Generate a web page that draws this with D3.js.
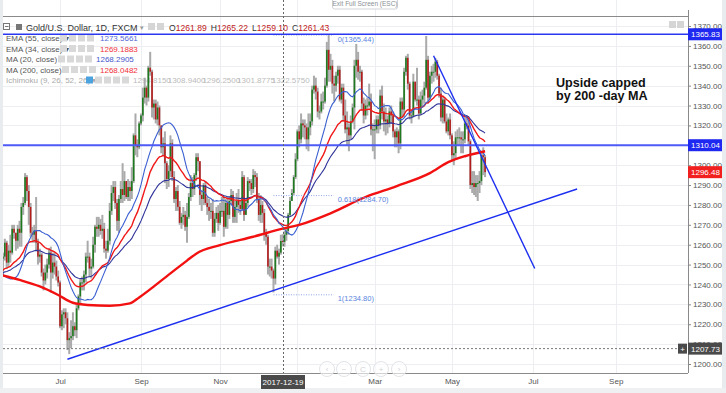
<!DOCTYPE html>
<html>
<head>
<meta charset="utf-8">
<script src="https://cdnjs.cloudflare.com/ajax/libs/d3/7.8.5/d3.min.js"></script>
<style>
  body { margin: 0; background: #fff; }
  svg { display: block; font-family: "Liberation Sans", Arial, sans-serif; }
</style>
</head>
<body>
<script>
// closes before the visible window (2017-03-06 .. 2017-05-18), only used to warm up the averages
const priorCloses = [
  1226, 1215, 1209, 1203, 1201, 1203, 1199, 1219, 1227, 1229, 1234, 1245, 1249, 1247, 1243, 1255, 1252, 1253, 1244, 1249,
  1252, 1257, 1248, 1252, 1254, 1254, 1274, 1285, 1287, 1288, 1291, 1290, 1282, 1283, 1284, 1275, 1266, 1263, 1265, 1268,
  1256, 1255, 1248, 1228, 1228, 1227, 1215, 1220, 1225, 1228, 1230, 1236, 1259, 1253
];

// daily candles 2017-05-19 .. 2018-05-25 (open = previous close)
const closes = [
  1254, 1261, 1251, 1257, 1256, 1268, 1266, 1262, 1268,
  1266, 1279, 1281, 1294, 1287, 1279, 1266, 1265, 1267, 1261, 1254, 1255, 1246, 1242, 1246, 1250, 1256, 1246, 1251, 1249, 1244, 1241,
  1219, 1225, 1226, 1223, 1212, 1213, 1214, 1219, 1217, 1228, 1234, 1241, 1241, 1245, 1254, 1254, 1248, 1249, 1260, 1269, 1268,
  1270, 1267, 1268, 1258, 1257, 1262, 1277, 1286, 1289, 1281, 1272, 1283, 1288, 1285, 1292, 1284, 1289, 1287, 1292, 1315, 1310, 1309, 1321,
  1325, 1334, 1339, 1334, 1349, 1347, 1329, 1331, 1323, 1329, 1320, 1309, 1311, 1301, 1293, 1297, 1311, 1294, 1283, 1287, 1279,
  1271, 1274, 1275, 1269, 1274, 1284, 1291, 1288, 1295, 1304, 1302, 1285, 1283, 1290, 1281, 1279, 1277, 1277, 1266, 1273, 1276, 1271,
  1277, 1277, 1269, 1281, 1275, 1282, 1285, 1274, 1279, 1282, 1280, 1278, 1294, 1275, 1281, 1292, 1291, 1288, 1295, 1294, 1283, 1275,
  1280, 1276, 1266, 1264, 1249, 1249, 1247, 1243, 1257, 1254, 1256, 1261.89, 1261.43, 1265, 1267, 1275, 1282, 1286, 1294, 1303,
  1317, 1313, 1321, 1320, 1319, 1313, 1319, 1322, 1338, 1340, 1337, 1327, 1327, 1332, 1332, 1340, 1358, 1348, 1350, 1341, 1340, 1345,
  1348, 1333, 1339, 1325, 1318, 1319, 1315, 1322, 1329, 1350, 1353, 1347, 1347, 1331, 1325, 1330, 1330, 1332, 1318, 1318,
  1318, 1323, 1320, 1335, 1327, 1322, 1323, 1321, 1327, 1325, 1317, 1314, 1317, 1311, 1332, 1328, 1347, 1354, 1341, 1325, 1325,
  1342, 1333, 1333, 1326, 1333, 1335, 1339, 1353, 1334, 1345, 1347, 1347, 1352, 1345, 1336, 1324, 1333, 1322, 1317, 1323, 1315,
  1305, 1306, 1314, 1314, 1314, 1313, 1313, 1321, 1320, 1312, 1290, 1291, 1289, 1291, 1291, 1292, 1305, 1304, 1296.48
];
const highs = [
  1256, 1263, 1262, 1260, 1265, 1270, 1270, 1266, 1270,
  1272, 1281, 1284, 1296, 1295, 1290, 1281, 1269, 1270, 1284, 1263, 1258, 1256, 1248, 1250, 1253, 1258, 1259, 1256, 1256, 1252, 1247,
  1242, 1227, 1228, 1228, 1226, 1216, 1222, 1226, 1221, 1230, 1235, 1243, 1244, 1247, 1256, 1262, 1256, 1253, 1264, 1270, 1274,
  1274, 1273, 1275, 1271, 1262, 1268, 1281, 1290, 1292, 1292, 1283, 1285, 1292, 1301, 1297, 1292, 1293, 1292, 1299, 1316, 1326, 1313, 1322,
  1326, 1339, 1344, 1340, 1350, 1357, 1348, 1333, 1333, 1332, 1330, 1320, 1314, 1317, 1302, 1300, 1315, 1313, 1297, 1289, 1290,
  1282, 1276, 1279, 1277, 1281, 1286, 1295, 1294, 1296, 1306, 1306, 1302, 1287, 1291, 1292, 1284, 1283, 1281, 1283, 1276, 1279, 1280,
  1281, 1284, 1285, 1283, 1284, 1284, 1288, 1287, 1282, 1286, 1288, 1282, 1297, 1295, 1283, 1294, 1293, 1293, 1298, 1297, 1296, 1286,
  1285, 1282, 1278, 1268, 1265, 1253, 1253, 1248, 1259, 1260, 1258, 1265, 1265.22, 1267, 1269, 1276, 1284, 1288, 1295, 1306,
  1318, 1320, 1326, 1323, 1323, 1321, 1326, 1326, 1340, 1345, 1344, 1339, 1330, 1336, 1337, 1344, 1362, 1365.4, 1356, 1353, 1345, 1347,
  1350, 1350, 1341, 1341, 1333, 1327, 1321, 1325, 1331, 1353, 1361, 1357, 1350, 1348, 1334, 1333, 1334, 1341, 1336, 1321,
  1323, 1325, 1325, 1338, 1340, 1331, 1329, 1325, 1329, 1330, 1327, 1318, 1319, 1318, 1334, 1334, 1349, 1355, 1356, 1342, 1328,
  1346, 1342, 1349, 1335, 1337, 1338, 1342, 1365, 1355, 1347, 1350, 1351, 1354, 1353, 1346, 1339, 1335, 1334, 1326, 1324, 1326,
  1316, 1312, 1317, 1318, 1319, 1317, 1317, 1325, 1325, 1322, 1313, 1297, 1297, 1295, 1295, 1297, 1306, 1309, 1305
];
const lows = [
  1245, 1252, 1248, 1249, 1251, 1255, 1263, 1257, 1258,
  1259, 1259, 1275, 1280, 1282, 1270, 1264, 1261, 1261, 1257, 1250, 1251, 1244, 1237, 1240, 1243, 1248, 1236, 1243, 1245, 1242, 1239,
  1218, 1217, 1218, 1220, 1207, 1205, 1208, 1212, 1214, 1213, 1227, 1230, 1237, 1237, 1241, 1251, 1244, 1243, 1248, 1256, 1264,
  1264, 1265, 1263, 1256, 1253, 1256, 1260, 1275, 1282, 1278, 1267, 1266, 1281, 1281, 1282, 1283, 1282, 1282, 1283, 1291, 1305, 1304, 1308,
  1320, 1322, 1331, 1330, 1332, 1345, 1324, 1323, 1321, 1320, 1315, 1306, 1305, 1291, 1288, 1289, 1294, 1292, 1281, 1277, 1277,
  1270, 1268, 1270, 1267, 1261, 1273, 1282, 1284, 1285, 1292, 1297, 1280, 1277, 1280, 1280, 1275, 1272, 1273, 1264, 1264, 1271, 1267,
  1270, 1274, 1264, 1268, 1268, 1273, 1280, 1271, 1271, 1271, 1276, 1275, 1277, 1272, 1275, 1279, 1287, 1285, 1286, 1289, 1281, 1272,
  1271, 1271, 1262, 1260, 1245, 1244, 1243, 1236, 1240, 1253, 1250, 1255, 1259.10, 1259, 1262, 1265, 1274, 1282, 1285, 1293,
  1302, 1309, 1311, 1314, 1313, 1308, 1307, 1315, 1320, 1336, 1333, 1324, 1323, 1326, 1328, 1331, 1339, 1342, 1342, 1336, 1332, 1337,
  1341, 1332, 1331, 1322, 1316, 1310, 1307, 1313, 1321, 1318, 1344, 1343, 1342, 1328, 1321, 1323, 1325, 1329, 1315, 1307,
  1303, 1316, 1316, 1318, 1323, 1317, 1315, 1316, 1319, 1321, 1314, 1309, 1309, 1306, 1308, 1324, 1324, 1345, 1338, 1323, 1321,
  1324, 1332, 1330, 1323, 1325, 1329, 1331, 1338, 1331, 1333, 1341, 1342, 1344, 1343, 1334, 1322, 1321, 1321, 1316, 1315, 1313,
  1302, 1300, 1303, 1310, 1310, 1306, 1306, 1311, 1318, 1310, 1288, 1286, 1285, 1284, 1282, 1286, 1290, 1295, 1294
];

// 200-day MA (older history not available here)
const ma200Dates = ["2017-05-17", "2017-06-01", "2017-06-16", "2017-06-30", "2017-07-12", "2017-07-24", "2017-08-09",
  "2017-08-24", "2017-08-31", "2017-09-25", "2017-10-06", "2017-10-13", "2017-11-01", "2017-11-27", "2017-12-19",
  "2018-01-03", "2018-01-26", "2018-02-22", "2018-03-19", "2018-04-13", "2018-04-27", "2018-05-10", "2018-05-25"];
const ma200Values = [1245, 1242.3, 1239, 1234.7, 1230.8, 1229.7, 1229.3, 1230.5, 1233.5, 1245.6, 1252, 1255.5,
  1259.8, 1264, 1268.05, 1270, 1275.8, 1284, 1289.5, 1296, 1301.5, 1304.5, 1307];

const holidays = ["2017-12-25", "2018-01-01", "2018-03-30"];
const monthTicks = ["2017-07-03", "2017-09-01", "2017-11-01", "2018-01-02", "2018-03-01", "2018-05-01", "2018-07-02", "2018-09-03"];
const monthLabels = ["Jul", "Sep", "Nov", "", "Mar", "May", "Jul", "Sep"];   // Jan sits under the crosshair date
const priceTicks = [1200, 1210, 1220, 1230, 1240, 1250, 1260, 1270, 1280, 1290, 1300, 1310, 1320, 1330, 1340, 1350, 1360, 1370];

const legendNames = ["EMA (55, close)", "EMA (34, close)", "MA (20, close)", "MA (200, close)"];
const legendValues = ["1273.5661", "1269.1883", "1268.2905", "1268.0482"];
const ichimokuValues = ["1294.8150", "1308.9400", "1296.2500", "1301.8775", "1322.5750"];

const resistance = 1365.83, support = 1310.04, lastPrice = 1296.48, crossPrice = 1207.73;
const crossDate = "2017-12-19";
const fibNames = ["0(1365.44)", "0.618(1284.70)", "1(1234.80)"];
const fibValues = [1365.44, 1284.70, 1234.80];
const risingLine = [["2017-07-07", 1202.4], ["2018-08-03", 1288]];
const fallingLine = [["2018-04-17", 1355], ["2018-07-03", 1248]];

let W = 726, H = 393;
let plotRight = 688, plotTop = 16, plotBottom = 373;

let svg = d3.select("body").append("svg")
  .attr("width", W)
  .attr("height", H);

/************** trading calendar **************/
let fmt = d3.timeFormat("%Y-%m-%d");
let calendar = [];
for (let d = new Date(2017, 2, 6); d <= new Date(2018, 9, 31); d = d3.timeDay.offset(d, 1)) {
  let wd = d.getDay();
  if (wd === 0 || wd === 6) continue;
  if (holidays.includes(fmt(d))) continue;
  calendar.push(fmt(d));
}
let dayIndex = new Map(calendar.map((d, i) => [d, i]));
let first = priorCloses.length;               // 2017-05-19
let allCloses = priorCloses.concat(closes);

let x = d3.scaleLinear()
  .domain([first, first + closes.length - 1])
  .range([3, 3 + (closes.length - 1) * 1.84]);
let y = d3.scaleLinear()
  .domain([1200, 1370])
  .range([364, 26]);

/************** background **************/
svg.append("rect").attr("width", W).attr("height", H).attr("fill", "#fff");
svg.append("rect").attr("x", 0).attr("y", 0).attr("width", 3).attr("height", H).attr("fill", "#e9ecef");
svg.append("rect").attr("x", 722).attr("y", 0).attr("width", 4).attr("height", H).attr("fill", "#e9ecef");
svg.append("rect").attr("x", 0).attr("y", 388).attr("width", W).attr("height", 5).attr("fill", "#eef0f2");

// grid
svg.append("g").selectAll("line")
  .data(priceTicks)
  .enter().append("line")
  .attr("x1", 3).attr("x2", plotRight)
  .attr("y1", d => Math.round(y(d)) + 0.5).attr("y2", d => Math.round(y(d)) + 0.5)
  .attr("stroke", "#eceef1");
svg.append("g").selectAll("line")
  .data(monthTicks)
  .enter().append("line")
  .attr("x1", d => Math.round(x(dayIndex.get(d))) + 0.5).attr("x2", d => Math.round(x(dayIndex.get(d))) + 0.5)
  .attr("y1", 0).attr("y2", plotBottom)
  .attr("stroke", "#eceef1");

svg.append("line").attr("x1", 3).attr("x2", plotRight).attr("y1", plotTop + 0.5).attr("y2", plotTop + 0.5)
  .attr("stroke", "#8a8a8a");
svg.append("line").attr("x1", 3).attr("x2", plotRight).attr("y1", plotBottom + 0.5).attr("y2", plotBottom + 0.5)
  .attr("stroke", "#8a8a8a");
svg.append("line").attr("x1", plotRight + 0.5).attr("x2", plotRight + 0.5).attr("y1", 10).attr("y2", plotBottom)
  .attr("stroke", "#8a8a8a");

// "exit full screen" tip
svg.append("rect").attr("x", 332.5).attr("y", -3).attr("width", 65).attr("height", 12).attr("rx", 2)
  .attr("fill", "#fff").attr("stroke", "#cfd3d7");
svg.append("text").attr("x", 365).attr("y", 6).attr("text-anchor", "middle")
  .attr("font-size", "6.5px").attr("fill", "#8a8f94").text("Exit Full Screen (ESC)");

/************** legend **************/
let legend = svg.append("g").attr("font-size", "8px");
legend.append("rect").attr("x", 3.5).attr("y", 23.5).attr("width", 6).attr("height", 6).attr("fill", "none").attr("stroke", "#777");
legend.append("line").attr("x1", 5).attr("x2", 8.5).attr("y1", 26.5).attr("y2", 26.5).attr("stroke", "#777");
legend.append("rect").attr("x", 16).attr("y", 24).attr("width", 6).attr("height", 6).attr("fill", "#777");
legend.append("text").attr("x", 26).attr("y", 30.5).attr("font-size", "9px").attr("fill", "#333")
  .text("Gold/U.S. Dollar, 1D, FXCM");
legend.append("text").attr("x", 140).attr("y", 30).attr("fill", "#999").attr("font-size", "7px").text("▾");
[148, 157].forEach(ix => legend.append("rect").attr("x", ix).attr("y", 23).attr("width", 7).attr("height", 7).attr("fill", "#d5d5d5"));
let ohlc = legend.append("text").attr("x", 169).attr("y", 30.5).attr("font-size", "8.6px").attr("fill", "#333");
[["O", "1261.89"], ["H", "1265.22"], ["L", "1259.10"], ["C", "1261.43"]].forEach((p, i) => {
  ohlc.append("tspan").attr("dx", i ? 4 : 0).text(p[0]);
  ohlc.append("tspan").attr("fill", "#c21a1a").text(p[1]);
});

let rowY = [41, 51.5, 62, 72.5];
let rowIcon = [60, 60, 58, 62];
let rowVal = [100, 100, 96, 100];
let rowColor = ["#5667d6", "#f0303a", "#4455cc", "#f0303a"];
legendNames.forEach((name, i) => {
  legend.append("text").attr("x", 6).attr("y", rowY[i]).attr("fill", "#555").text(name + " ▾");
  for (let j = 0; j < 4; j++) {
    legend.append("rect").attr("x", rowIcon[i] + j * 9).attr("y", rowY[i] - 6.5).attr("width", 7).attr("height", 7).attr("fill", "#d9d9d9");
  }
  legend.append("text").attr("x", rowVal[i]).attr("y", rowY[i]).attr("fill", rowColor[i]).text(legendValues[i]);
});
legend.append("text").attr("x", 6).attr("y", 83).attr("fill", "#aaa").text("Ichimoku (9, 26, 52, 26) ▾");
for (let j = 0; j < 5; j++) {
  legend.append("rect").attr("x", 86 + j * 9).attr("y", 76.5).attr("width", 7).attr("height", 7)
    .attr("fill", j === 0 ? "#4aa3df" : "#d9d9d9");
}
ichimokuValues.forEach((v, i) => {
  legend.append("text").attr("x", 133 + i * 34.7).attr("y", 83).attr("fill", "#bbb").text(v);
});

/************** plot **************/
svg.append("clipPath").attr("id", "plot")
  .append("rect").attr("x", 3).attr("y", plotTop).attr("width", plotRight - 3).attr("height", plotBottom - plotTop);
let plot = svg.append("g").attr("clip-path", "url(#plot)");

let candles = closes.map((c, i) => ({
  k: first + i, o: allCloses[first + i - 1], h: highs[i], l: lows[i], c: c
}));

plot.selectAll(".wick")
  .data(candles)
  .enter().append("rect")
  .attr("class", "wick")
  .attr("x", d => x(d.k) - 1)
  .attr("width", 2)
  .attr("y", d => y(d.h))
  .attr("height", d => y(d.l) - y(d.h))
  .attr("fill", "#aaaaaa");

plot.selectAll(".body")
  .data(candles)
  .enter().append("rect")
  .attr("class", "body")
  .attr("x", d => x(d.k) - 0.8)
  .attr("width", 1.6)
  .attr("y", d => y(Math.max(d.o, d.c)))
  .attr("height", d => Math.max(1, Math.abs(y(d.o) - y(d.c))))
  .attr("fill", d => d.c >= d.o ? "#1f7a1f" : "#b51d1d");

// moving averages from the closes
function sma(arr, n) {
  return arr.map((v, i) => i < n - 1 ? null : d3.mean(arr.slice(i - n + 1, i + 1)));
}
function ema(arr, n) {
  let a = 2 / (n + 1), out = [], prev = arr[0];
  arr.forEach(v => { prev = a * v + (1 - a) * prev; out.push(prev); });
  return out;
}
let avgLine = d3.line()
  .defined(d => d.v != null)
  .x(d => x(d.k))
  .y(d => y(d.v));
let series = [
  { v: ema(allCloses, 55), color: "#2f3399", w: 1.1 },
  { v: ema(allCloses, 34), color: "#f01818", w: 1.4 },
  { v: sma(allCloses, 20), color: "#3a5fd0", w: 1.1 }
];
series.forEach(s => {
  let pts = s.v.map((v, k) => ({ k: k, v: v })).filter(d => d.k >= first - 3);
  plot.append("path")
    .attr("d", avgLine(pts))
    .attr("fill", "none")
    .attr("stroke", s.color)
    .attr("stroke-width", s.w);
});

let ma200 = ma200Dates.map((d, i) => ({ k: dayIndex.get(d), v: ma200Values[i] }));
plot.append("path")
  .attr("d", avgLine.curve(d3.curveMonotoneX)(ma200))
  .attr("fill", "none")
  .attr("stroke", "#f21010")
  .attr("stroke-width", 2.4);

/************** drawings **************/
let fibX1 = x(dayIndex.get("2017-12-12")), fibX2 = x(dayIndex.get("2018-01-25")) + 5;
fibValues.forEach((v, i) => {
  plot.append("line").attr("x1", fibX1).attr("x2", fibX2).attr("y1", y(v)).attr("y2", y(v))
    .attr("stroke", "#8ea6ea").attr("stroke-dasharray", "1,1.5");
  plot.append("text").attr("x", fibX2 + 4).attr("y", y(v) + 6.5)
    .attr("font-size", "7.5px").attr("fill", "#5b86e0").text(fibNames[i]);
});

plot.append("line").attr("x1", 3).attr("x2", plotRight).attr("y1", y(resistance)).attr("y2", y(resistance))
  .attr("stroke", "#2a36f2").attr("stroke-width", 1.5);
plot.append("line").attr("x1", 3).attr("x2", plotRight).attr("y1", y(support)).attr("y2", y(support))
  .attr("stroke", "#4d5af5").attr("stroke-width", 2);

[risingLine, fallingLine].forEach(l => {
  plot.append("line")
    .attr("x1", x(dayIndex.get(l[0][0]))).attr("y1", y(l[0][1]))
    .attr("x2", x(dayIndex.get(l[1][0]))).attr("y2", y(l[1][1]))
    .attr("stroke", "#1c2ff0").attr("stroke-width", 1.4);
});

let note = svg.append("text").attr("x", 556).attr("y", 87)
  .attr("font-size", "12.6px").attr("font-weight", "bold").attr("fill", "#111");
note.append("tspan").attr("x", 556).text("Upside capped");
note.append("tspan").attr("x", 556).attr("dy", 13).text("by 200 -day MA");

// crosshair
let cx = Math.round(x(dayIndex.get(crossDate))) + 0.5;
svg.append("line").attr("x1", cx).attr("x2", cx).attr("y1", 0).attr("y2", plotBottom)
  .attr("stroke", "#666").attr("stroke-dasharray", "2,2");
svg.append("line").attr("x1", 3).attr("x2", 678).attr("y1", y(crossPrice)).attr("y2", y(crossPrice))
  .attr("stroke", "#777").attr("stroke-dasharray", "2,2");

// zoom buttons
[327, 344, 363, 381, 399].forEach((bx, i) => {
  svg.append("circle").attr("cx", bx).attr("cy", 369).attr("r", 7.5)
    .attr("fill", "#fff").attr("fill-opacity", 0.6).attr("stroke", "#e2e4e7");
  svg.append("text").attr("x", bx).attr("y", 372).attr("text-anchor", "middle")
    .attr("font-size", "8px").attr("fill", "#d0d3d6").text(["‹", "−", "C", "+", "›"][i]);
});

/************** axes **************/
let yAxis = d3.axisRight(y)
  .tickValues(priceTicks)
  .tickFormat(d => d === 1310 ? "" : d3.format(".2f")(d))   // 1310 is covered by the level badge
  .tickSize(3);
let yg = svg.append("g").attr("transform", `translate(${plotRight},0)`).call(yAxis);
yg.select(".domain").remove();
yg.selectAll("line").attr("stroke", "#888");
yg.selectAll("text").attr("font-size", "8px").attr("fill", "#555").attr("x", 5).attr("font-family", "Liberation Sans, Arial");

let xAxis = d3.axisBottom(x)
  .tickValues(monthTicks.map(d => dayIndex.get(d)))
  .tickFormat((d, i) => monthLabels[i])
  .tickSize(0);
let xg = svg.append("g").attr("transform", `translate(0,${plotBottom})`).call(xAxis);
xg.select(".domain").remove();
xg.selectAll("text").attr("font-size", "8px").attr("fill", "#555").attr("dy", "1.05em").attr("font-family", "Liberation Sans, Arial");

// price badges
function badge(v, fill) {
  svg.append("rect").attr("x", 688).attr("y", y(v) - 6).attr("width", 34).attr("height", 12).attr("fill", fill);
  svg.append("text").attr("x", 691).attr("y", y(v) + 3).attr("font-size", "8px").attr("fill", "#fff").text(v.toFixed(2));
}
badge(resistance, "#1f28f0");
badge(support, "#1f28f0");
badge(lastPrice, "#f21f1f");
badge(crossPrice, "#4a4a4a");
svg.append("rect").attr("x", 678).attr("y", y(crossPrice) - 5).attr("width", 9).attr("height", 10).attr("fill", "#4a4a4a");
svg.append("text").attr("x", 682.5).attr("y", y(crossPrice) + 3).attr("text-anchor", "middle")
  .attr("font-size", "8px").attr("fill", "#fff").text("+");

svg.append("rect").attr("x", 261).attr("y", 375).attr("width", 44).attr("height", 14).attr("fill", "#4a4a4a");
svg.append("text").attr("x", 283).attr("y", 385).attr("text-anchor", "middle")
  .attr("font-size", "8px").attr("fill", "#fff").text(crossDate);

[669, 677].forEach(ix => svg.append("rect").attr("x", ix).attr("y", 21).attr("width", 7).attr("height", 7).attr("fill", "#d5d5d5"));
</script>
</body>
</html>
